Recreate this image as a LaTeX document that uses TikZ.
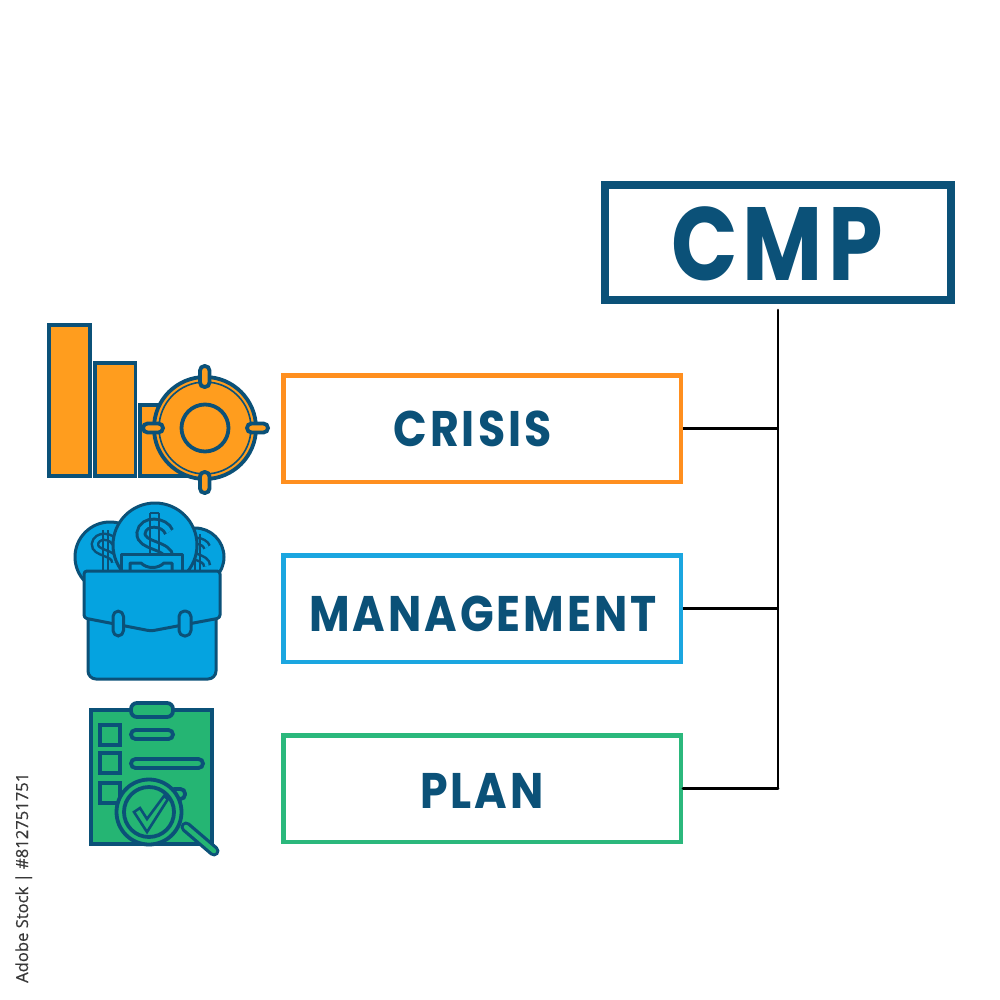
\documentclass[tikz,border=0pt]{standalone}
\usepackage{fontspec}
\setmainfont{Poppins}
\newfontfamily\sidefont{Open Sans}[FakeBold=0.35]
\newfontfamily\bigfont{Poppins Bold}[FakeStretch=0.84,LetterSpace=5]
\newfontfamily\itemfont{Poppins Bold}[FakeStretch=0.885,LetterSpace=6]
\definecolor{ink}{HTML}{0B5178}
\definecolor{orangeF}{HTML}{FF9D1E}
\definecolor{blueF}{HTML}{05A3E0}
\definecolor{greenF}{HTML}{25B573}
\definecolor{orangeB}{HTML}{FF8F1F}
\definecolor{blueB}{HTML}{1BA6E0}
\definecolor{greenB}{HTML}{2BB87C}
\tikzset{
 x=1pt,y=-1pt,
 bigbox/.style={draw=ink,line width=8pt,minimum width=346pt,minimum height=115pt,inner sep=0pt,text=ink,text height=74pt,text depth=0pt,font=\bigfont\fontsize{104}{104}\selectfont},
 itembox/.style={line width=4.5pt,minimum width=397.5pt,minimum height=106.5pt,inner sep=0pt,text=ink,text height=36pt,text depth=0pt,font=\itemfont\fontsize{50}{50}\selectfont},
 conn/.style={draw=black,line width=2.6pt},
 iconO/.style={draw=ink,line width=3.8pt,fill=orangeF,line join=miter},
 iconB/.style={draw=ink,line width=3pt,fill=blueF,line join=round},
 iconG/.style={draw=ink,line width=3.8pt,fill=greenF,line join=miter},
 pill/.style={rounded corners=4.5pt},
 dollarO/.style={draw=ink,line width=#1,line cap=butt},
 dollarI/.style={draw=blueF,line width=#1,line cap=butt},
}
\newcommand{\dollarpath}{(14,-8) .. controls (10,-19) and (-12,-21) .. (-14,-7) .. controls (-15,7) and (14,4) .. (14,18)}
\begin{document}
\begin{tikzpicture}
\useasboundingbox (0,0) rectangle (1000,1000);
\fill[white] (0,0) rectangle (1000,1000);
% boxes
\node[bigbox] (cmp) at (778,242.5) {\hspace*{-2pt}\raisebox{-0.5pt}{CMP}};
\node[itembox,draw=orangeB] (crisis) at (482,428.5) {\hspace*{-19pt}CRISIS};
\node[itembox,draw=blueB] (mgmt) at (482,608.5) {\hspace*{2pt}\raisebox{-4.5pt}{MANAGEMENT}};
\node[itembox,draw=greenB] (plan) at (482,788.5) {\raisebox{-1.5pt}{PLAN}};
\coordinate (join) at (plan.east -| cmp.south);
\draw[conn,shorten <=6pt,line cap=round] (cmp.south) -- (join);
\draw[conn] (crisis.east) -- (crisis.east -| cmp.south);
\draw[conn] (mgmt.east) -- (mgmt.east -| cmp.south);
\draw[conn,line cap=round] (plan.east) -- (join);
% orange icon
\draw[iconO] (49,325) rectangle (90,476);
\draw[iconO] (95,363) rectangle (135.5,476);
\draw[iconO] (140,405) rectangle (185,476);
\draw[iconO] (205,428) circle (51);
\draw[draw=ink,line width=1.6pt] (205,428) circle (46);
\draw[iconO] (205,428) circle (23.5);
\draw[iconO,pill] (200,366) rectangle (209.5,387);
\draw[iconO,pill] (200,472) rectangle (209.5,493);
\draw[iconO,pill] (143,423.5) rectangle (163,432.5);
\draw[iconO,pill] (247,423.5) rectangle (268,432.5);
% blue icon
\draw[iconB] (110,557) circle (35);
\draw[iconB] (195,557) circle (29);
\begin{scope}[shift={(105,549)},scale=0.72]
\draw[dollarO=8.5pt] \dollarpath;
\draw[dollarI=3.5pt] \dollarpath;
\draw[draw=ink,line width=2.4pt] (-3,-26) -- (-3,30) (4,-26) -- (4,30);
\end{scope}
\begin{scope}[shift={(197,553)},scale=0.72]
\draw[dollarO=8.5pt] \dollarpath;
\draw[dollarI=3.5pt] \dollarpath;
\draw[draw=ink,line width=2.4pt] (-3,-26) -- (-3,30) (4,-26) -- (4,30);
\end{scope}
\draw[iconB] (155,545) circle (42);
\begin{scope}[shift={(155,540)}]
\draw[dollarO=11pt] \dollarpath;
\draw[dollarI=5pt] \dollarpath;
\draw[draw=ink,line width=2.6pt] (-5,-27) -- (-5,13) (4,-27) -- (4,13) (-5,-27) -- (4,-27);
\end{scope}
\draw[iconB] (121,554) rectangle (182,572);
\draw[iconB] (130,563) -- (141,563) .. controls (147,569) and (158,569) .. (164,563) -- (172,563) -- (172,572) -- (130,572) -- cycle;
\draw[iconB,rounded corners=8pt] (88,600) -- (88,679) -- (216,679) -- (216,600) -- cycle;
\draw[iconB,rounded corners=3pt] (84,571) -- (220,571) -- (220,618) -- (151,631) -- (84,618) -- cycle;
\draw[iconB,rounded corners=5.5pt] (113,611) rectangle (123.5,636);
\draw[iconB,rounded corners=5.5pt] (179,611) rectangle (191,636);
% green icon
\draw[iconG] (91,710) rectangle (212,844);
\draw[iconG,rounded corners=6pt] (131,703) rectangle (173,717);
\draw[iconG] (100,725) rectangle (120,745);
\draw[iconG] (100,753) rectangle (120,773);
\draw[iconG] (100,783) rectangle (120,803);
\draw[iconG,rounded corners=4.5pt] (131,730) rectangle (173,739);
\draw[iconG,rounded corners=4.5pt] (131,759) rectangle (203,768);
\draw[iconG,rounded corners=4.5pt] (170,789) rectangle (185,799);
\draw[draw=ink,line width=11pt,line cap=round] (186,827) -- (214,851);
\draw[draw=greenF,line width=4.5pt,line cap=round] (186,827) -- (214,851);
\draw[iconG] (149,812) circle (32.5);
\draw[iconG] (149,812) circle (25);
\draw[iconG,line width=2.6pt,line join=miter] (134,812) -- (140,808) -- (147,819) -- (164,796) -- (168,799) -- (147,832) -- cycle;
% side label
\node[rotate=90,anchor=base west,inner sep=0pt,font=\sidefont\fontsize{16.6}{17}\selectfont,text=black!78] (stock) at (28,983) {Adobe Stock | \#812751751};
\end{tikzpicture}
\end{document}
